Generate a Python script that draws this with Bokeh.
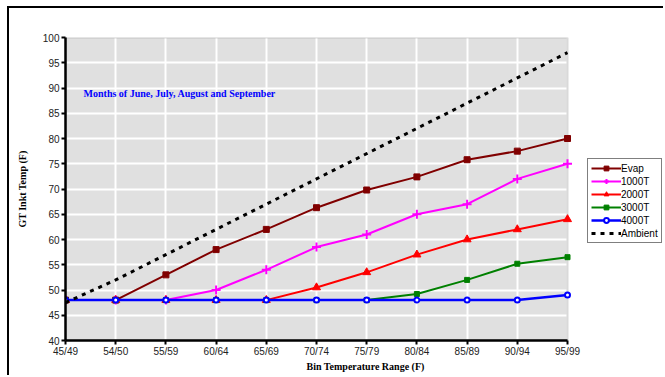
from bokeh.plotting import figure
from bokeh.models import (ColumnDataSource, Legend, LegendItem, Label, FixedTicker,
                          Range1d, BoxAnnotation)
from bokeh.embed import file_html
from bokeh.resources import INLINE

categories = ["45/49", "54/50", "55/59", "60/64", "65/69", "70/74",
              "75/79", "80/84", "85/89", "90/94", "95/99"]
evap = [48, 48, 53, 58, 62, 66.3, 69.8, 72.4, 75.8, 77.5, 80]
t1000 = [48, 48, 48, 50, 54, 58.5, 61, 65, 67, 72, 75]
t2000 = [48, 48, 48, 48, 48, 50.5, 53.5, 57, 60, 62, 64]
t3000 = [48, 48, 48, 48, 48, 48, 48, 49.2, 52, 55.2, 56.5]
t4000 = [48, 48, 48, 48, 48, 48, 48, 48, 48, 48, 49]
ambient = [47.5, 52, 57, 62, 67, 72, 77, 82, 87, 92, 97]
y_ticks = [40, 45, 50, 55, 60, 65, 70, 75, 80, 85, 90, 95, 100]
y_min, y_max = 40, 100

xs = list(range(len(categories)))
x_last = len(categories) - 1
src = ColumnDataSource(dict(x=xs, evap=evap, t1000=t1000, t2000=t2000,
                            t3000=t3000, t4000=t4000, ambient=ambient))

# layout (pixels inside the figure canvas)
W, H = 656, 369
left_px, plot_right_px = 56, 558          # data area from 56 to 558
x_end = x_last * (W - left_px) / (plot_right_px - left_px)

p = figure(width=W, height=H, output_backend="svg", toolbar_location=None,
           x_range=Range1d(0, x_end), y_range=Range1d(y_min, y_max),
           min_border_left=left_px, min_border_right=0, min_border_top=29,
           min_border_bottom=37)
p.styles = {"border-left": "2px solid black", "border-top": "2px solid black",
            "margin-left": "7px", "margin-top": "6px"}
p.background_fill_color = "white"
p.border_fill_color = "white"
p.outline_line_color = None

# gray plot area
p.add_layout(BoxAnnotation(left=0, right=x_last, bottom=y_min, top=y_max,
                           fill_color="#e0e0e0", fill_alpha=1, line_color=None,
                           level="image"))
# white cover right of plot area (hides grid there)
p.add_layout(BoxAnnotation(left=x_last, fill_color="white", fill_alpha=1,
                           line_color=None, level="underlay"))
# gray border of plot area
p.add_layout(BoxAnnotation(left=0, right=x_last, bottom=y_min, top=y_max,
                           fill_alpha=0, line_color="#808080", line_width=2,
                           level="underlay"))

for ax in (p.xaxis[0], p.yaxis[0]):
    ax.axis_line_color = "black"
    ax.axis_line_width = 2.5
    ax.major_tick_line_color = "black"
    ax.major_tick_line_width = 2
    ax.major_tick_out = 4
    ax.major_tick_in = 0
    ax.minor_tick_line_color = None
    ax.major_label_text_font = "Liberation Sans"
    ax.major_label_text_font_size = "10px"
    ax.major_label_text_color = "#222222"
    ax.axis_label_text_font = "Liberation Serif"
    ax.axis_label_text_font_style = "bold"
    ax.axis_label_text_font_size = "10px"
    ax.axis_label_text_color = "black"

p.xaxis.ticker = FixedTicker(ticks=xs)
p.xaxis.bounds = (0, x_last)
p.xaxis.major_label_overrides = {i: c for i, c in enumerate(categories)}
p.xaxis.major_label_standoff = 1
p.xaxis.axis_label = "Bin Temperature Range (F)"
p.xaxis.axis_label_standoff = 1
p.yaxis.ticker = FixedTicker(ticks=y_ticks)
p.yaxis.major_label_standoff = 2
p.yaxis.axis_label = "GT Inkt Temp (F)"
p.yaxis.axis_label_standoff = 12

p.xgrid.ticker = FixedTicker(ticks=xs)
p.xgrid.grid_line_color = "white"
p.xgrid.grid_line_width = 2
p.ygrid.ticker = FixedTicker(ticks=y_ticks)
p.ygrid.grid_line_color = "white"
p.ygrid.grid_line_width = 2

items = []
r = p.line("x", "evap", source=src, color="#800000", line_width=2)
m = p.scatter("x", "evap", source=src, marker="square", size=6, color="#800000")
items.append(LegendItem(label="Evap", renderers=[r, m]))

r = p.line("x", "t1000", source=src, color="#ff00ff", line_width=2)
m = p.scatter("x", "t1000", source=src, marker="cross", size=9, line_width=2, color="#ff00ff")
items.append(LegendItem(label="1000T", renderers=[r, m]))

r = p.line("x", "t2000", source=src, color="#ff0000", line_width=2)
m = p.scatter("x", "t2000", source=src, marker="triangle", size=8, color="#ff0000")
items.append(LegendItem(label="2000T", renderers=[r, m]))

r = p.line("x", "t3000", source=src, color="#008000", line_width=2)
m = p.scatter("x", "t3000", source=src, marker="square", size=5, color="#008000")
items.append(LegendItem(label="3000T", renderers=[r, m]))

r = p.line("x", "t4000", source=src, color="#0000ff", line_width=2.5)
m = p.scatter("x", "t4000", source=src, marker="circle", size=5, line_width=2,
              line_color="#0000ff", fill_color="white")
items.append(LegendItem(label="4000T", renderers=[r, m]))

r = p.line("x", "ambient", source=src, color="black", line_width=3, line_dash="4 5")
items.append(LegendItem(label="Ambient", renderers=[r]))

legend = Legend(items=items, location=(522, 97), orientation="vertical",
                label_text_font="Liberation Sans", label_text_font_size="10px",
                label_text_color="black", glyph_width=30, glyph_height=12,
                label_height=12, label_standoff=0, spacing=1, padding=3, margin=0,
                border_line_color="black", border_line_width=1.5,
                background_fill_color="white", background_fill_alpha=1)
p.add_layout(legend, "center")

note = Label(x=0.36, y=88.9, text="Months of June, July, August and September",
             text_font="Liberation Serif", text_font_style="bold",
             text_font_size="10px", text_color="#0000ff", text_baseline="middle")
p.add_layout(note)

open("out.html", "w").write(file_html(p, INLINE))
